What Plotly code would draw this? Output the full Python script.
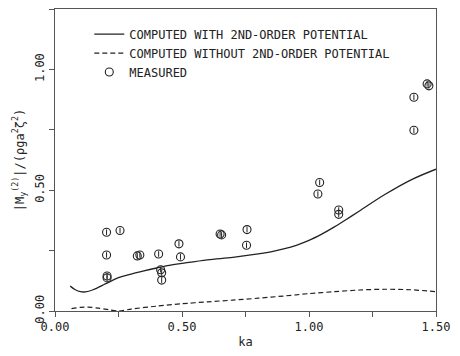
import plotly.graph_objects as go

# Computed with 2nd-order potential (solid)
solid_ka = [0.06, 0.08, 0.10, 0.12, 0.15, 0.20, 0.25, 0.30, 0.35, 0.40, 0.45, 0.50, 0.60, 0.70,
            0.80, 0.85, 0.90, 0.95, 1.00, 1.05, 1.10, 1.15, 1.20, 1.30, 1.40, 1.50]
solid_m = [0.103, 0.088, 0.080, 0.079, 0.088, 0.113, 0.138, 0.153, 0.166, 0.178, 0.189, 0.197, 0.212, 0.222,
           0.236, 0.245, 0.257, 0.272, 0.292, 0.318, 0.348, 0.381, 0.415, 0.483, 0.542, 0.587]

# Computed without 2nd-order potential (dashed)
dash_ka = [0.065, 0.10, 0.13, 0.17, 0.21, 0.25, 0.30, 0.40, 0.50, 0.60, 0.70, 0.80, 0.90, 1.00,
           1.10, 1.20, 1.30, 1.40, 1.50]
dash_m = [0.010, 0.015, 0.016, 0.012, 0.006, 0.000, 0.008, 0.020, 0.030, 0.038, 0.045, 0.053, 0.062, 0.072,
          0.080, 0.087, 0.090, 0.088, 0.080]

# Measured
meas_ka = [0.203, 0.256, 0.203, 0.324, 0.334, 0.408, 0.205, 0.205, 0.416, 0.420, 0.420, 0.488, 0.494,
           0.650, 0.656, 0.756, 0.754, 1.042, 1.035, 1.117, 1.117, 1.413, 1.413, 1.465, 1.472]
meas_m = [0.326, 0.333, 0.232, 0.228, 0.232, 0.236, 0.145, 0.137, 0.171, 0.158, 0.128, 0.278, 0.224,
          0.319, 0.315, 0.337, 0.272, 0.532, 0.484, 0.418, 0.400, 0.885, 0.748, 0.940, 0.932]

x_tickvals = [0, 0.5, 1.0, 1.5]
x_ticktext = ["0.00", "0.50", "1.00", "1.50"]
y_tickvals = [0, 0.5, 1.0]
y_ticktext = ["0.00", "0.50", "1.00"]

FONT = "DejaVu Sans Mono"
INK = "#222222"

fig = go.Figure()
fig.add_trace(go.Scatter(x=solid_ka, y=solid_m, mode="lines", name="COMPUTED WITH 2ND-ORDER POTENTIAL",
                         line=dict(color=INK, width=1.3, shape="spline", smoothing=1.0)))
fig.add_trace(go.Scatter(x=dash_ka, y=dash_m, mode="lines", name="COMPUTED WITHOUT 2ND-ORDER POTENTIAL",
                         line=dict(color=INK, width=1.2, dash="5px,3px", shape="spline", smoothing=0.8)))
fig.add_trace(go.Scatter(x=meas_ka, y=meas_m, mode="markers", name="MEASURED",
                         marker=dict(symbol="circle-open", size=8, color=INK, line=dict(width=1.1, color=INK))))
fig.add_trace(go.Scatter(x=meas_ka, y=meas_m, mode="markers", showlegend=False, hoverinfo="skip",
                         marker=dict(symbol="line-ns-open", size=4, color=INK, line=dict(width=1.0, color=INK))))

axis_common = dict(showline=True, linecolor="#555555", linewidth=1, mirror=True, showgrid=False,
                   zeroline=False, ticks="outside", ticklen=5, tickcolor="#555555",
                   tickfont=dict(family=FONT, size=12, color=INK))

fig.update_xaxes(range=[0, 1.5], tickvals=x_tickvals, ticktext=x_ticktext,
                 minor=dict(dtick=0.25, ticks="outside", ticklen=5, tickcolor="#555555", showgrid=False),
                 title=dict(text="ka", font=dict(family=FONT, size=12, color=INK), standoff=4),
                 **axis_common)
fig.update_yaxes(range=[0, 1.25], tickvals=y_tickvals, ticktext=y_ticktext, tickangle=-90,
                 minor=dict(dtick=0.25, ticks="outside", ticklen=5, tickcolor="#555555", showgrid=False),
                 title=dict(text="|M<sub>y</sub><sup>(2)</sup>|/(ρga<sup>2</sup>ζ<sup>2</sup>)",
                            font=dict(family=FONT, size=12, color=INK), standoff=6),
                 **axis_common)

# page body has an 8px margin, so the figure is offset by 8px
fig.update_layout(
    width=452, height=348,
    margin=dict(l=47, r=24, t=1, b=45),
    paper_bgcolor="white", plot_bgcolor="white",
    font=dict(family=FONT, size=12, color=INK),
    legend=dict(x=0.09, y=0.965, xanchor="left", yanchor="top", bgcolor="rgba(0,0,0,0)",
                font=dict(family=FONT, size=12, color=INK), tracegroupgap=0),
    showlegend=True,
)

fig.write_html("out.html")
